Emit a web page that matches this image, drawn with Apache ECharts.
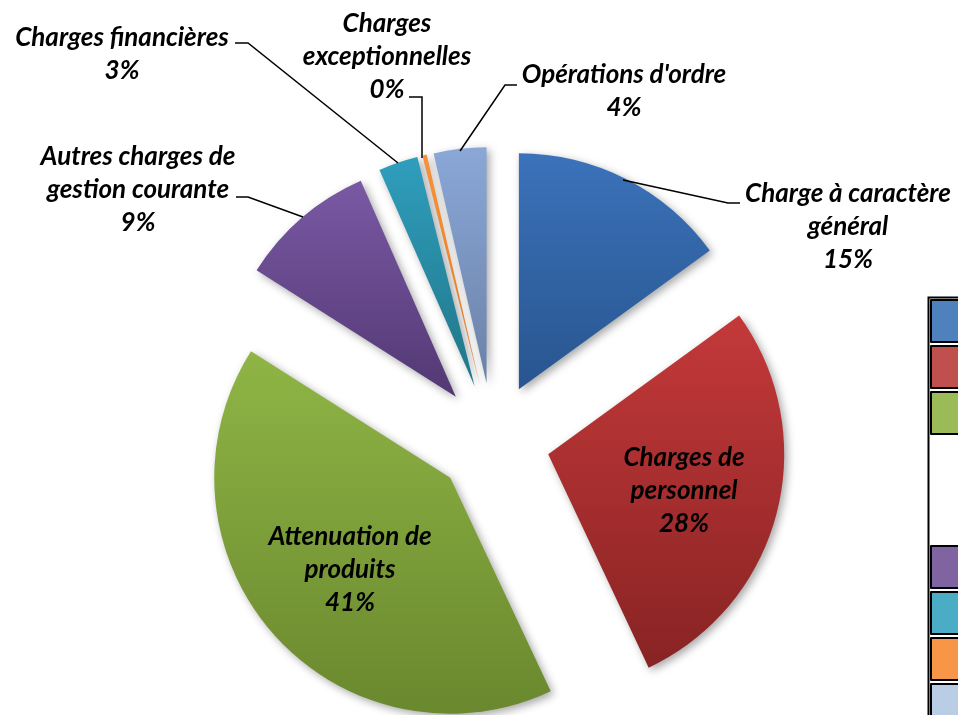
<!DOCTYPE html>
<html>
<head>
<meta charset="utf-8">
<script src="https://cdn.jsdelivr.net/npm/echarts@6/dist/echarts.min.js"></script>
<style>
  html, body { margin: 0; padding: 0; background: #fff; }
  #chart { width: 958px; height: 715px; }
</style>
</head>
<body>
<div id="chart"></div>
<script>
// categories, clockwise from 12 o'clock
const categories = [
  'Charge à caractère général',
  'Charges de personnel',
  'Attenuation de produits',
  'Autres charges de gestion courante',
  'Charges financières',
  'Charges exceptionnelles',
  "Opérations d'ordre"
]
// share of total (%)
const shares = [15, 28, 41, 9.4, 2.7, 0.3, 3.6]
// label text as wrapped in the picture
const labelNames = [
  'Charge à caractère\ngénéral',
  'Charges de\npersonnel',
  'Attenuation de\nproduits',
  'Autres charges de\ngestion courante',
  'Charges financières',
  'Charges\nexceptionnelles',
  "Opérations d'ordre"
]

// styles
const topColors = ['#3b72ba', '#c4393a', '#8fb545', '#7a59a4', '#2f9ebd', '#f7923c', '#8aa7d7']
const bottomColors = ['#28558f', '#882323', '#6a882e', '#523873', '#207688', '#e07a22', '#6a82a8']
const legendColors = ['#4f81bd', '#c0504d', '#9bbb59', '#8064a2', '#4bacc6', '#f79646', '#b9cde5']

// label placement (centre of each text block) and leader lines
const labelPos = [[848, 227], [684, 491], [350, 570], [138, 190], [122, 54], [387, 57], [624, 91]]
const leaders = [
  [[623, 180], [728, 203], [740, 203]],
  null,
  null,
  [[303, 217], [248, 197], [236, 197]],
  [[398, 163], [248, 43], [235, 43]],
  [[422, 158], [422, 97], [409, 97]],
  [[460, 151], [505, 85], [517, 85]]
]

const total = shares.reduce((a, b) => a + b, 0)

const chart = echarts.init(document.getElementById('chart'), null, { renderer: 'canvas' })

function gradient(i) {
  return new echarts.graphic.LinearGradient(0, 0, 0, 1, [
    { offset: 0, color: topColors[i] },
    { offset: 1, color: bottomColors[i] }
  ])
}

const slices = categories.map((name, i) => {
  const style = {
    color: gradient(i),
    shadowBlur: 8,
    shadowColor: 'rgba(0,0,0,0.35)',
    shadowOffsetX: 3,
    shadowOffsetY: 3,
    borderWidth: 0
  }
  return {
    name: name,
    value: shares[i],
    selected: true,
    itemStyle: style,
    select: { itemStyle: style }
  }
})

// labels + leader lines
const graphics = [{
  type: 'rect',
  left: 926,
  top: 295,
  shape: { width: 120, height: 500 },
  style: { fill: 'none', stroke: '#000', lineWidth: 2 }
}]
categories.forEach((name, i) => {
  const pct = Math.round(shares[i] / total * 100)
  graphics.push({
    type: 'text',
    x: labelPos[i][0],
    y: labelPos[i][1],
    z: 100,
    style: {
      text: labelNames[i] + '\n' + pct + '%',
      fill: '#000',
      fontFamily: 'Lato',
      fontWeight: 'bold',
      fontStyle: 'italic',
      fontSize: 26,
      lineHeight: 33,
      align: 'center',
      verticalAlign: 'middle'
    }
  })
  if (leaders[i]) {
    graphics.push({
      type: 'polyline',
      z: 100,
      shape: { points: leaders[i] },
      style: { stroke: '#000', lineWidth: 1.5, fill: null }
    })
  }
})

const legendText = {
  fontSize: 14,
  color: '#000',
  fontFamily: 'Lato'
}

chart.setOption({
  animation: false,
  graphic: graphics,
  legend: [{
    orient: 'vertical',
    left: 930,
    top: 299,
    height: 400,
    padding: 0,
    itemWidth: 60,
    itemHeight: 42,
    itemGap: 2,
    icon: 'rect',
    selectedMode: false,
    itemStyle: { borderColor: '#000', borderWidth: 2 },
    textStyle: legendText,
    data: categories.slice(0, 3).map((n, i) => ({ name: n, itemStyle: { color: legendColors[i] } }))
  }, {
    orient: 'vertical',
    left: 930,
    top: 545,
    height: 400,
    padding: 0,
    itemWidth: 60,
    itemHeight: 42,
    itemGap: 2,
    icon: 'rect',
    selectedMode: false,
    itemStyle: { borderColor: '#000', borderWidth: 2 },
    textStyle: legendText,
    data: categories.slice(3).map((n, i) => ({ name: n, itemStyle: { color: legendColors[i + 3] } }))
  }],
  series: [{
    type: 'pie',
    center: [493, 440],
    radius: 236,
    startAngle: 90,
    clockwise: true,
    selectedMode: 'multiple',
    selectedOffset: 57,
    emphasis: { disabled: true },
    label: { show: false },
    labelLine: { show: false },
    data: slices
  }]
})
</script>
</body>
</html>
